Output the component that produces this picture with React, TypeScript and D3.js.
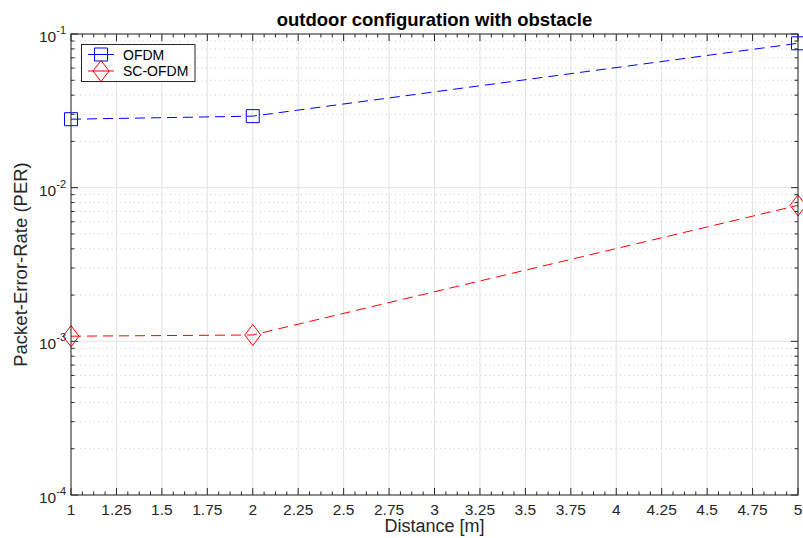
import * as d3 from 'd3';
import React from 'react';

// values
const distances = [1, 2, 5];
const ofdmPer = [0.0279, 0.0292, 0.087];
const scOfdmPer = [0.00108, 0.0011, 0.00767];
const seriesNames = ['OFDM', 'SC-OFDM'];
const xTicks = d3.range(1, 5.0001, 0.25);
const xMinorTicks = d3.range(1, 5.0001, 0.0625);
const yDecades = [1e-4, 1e-3, 1e-2, 1e-1];

const width = 803;
const height = 538;
const marginTop = 34;
const marginRight = 5;
const marginBottom = 43;
const marginLeft = 71;
const font = '"Liberation Sans", Arial, Helvetica, sans-serif';
const axisColor = '#262626';

const App = () => {
  const x = d3.scaleLinear([1, 5], [marginLeft, width - marginRight]);
  const y = d3.scaleLog([1e-4, 1e-1], [height - marginBottom, marginTop]);

  // minor log ticks 2..9 inside each decade
  const yMinor = yDecades.slice(0, -1).flatMap((d) => d3.range(2, 10).map((k) => k * d));

  const line = d3.line<number>((d, i) => x(distances[i]), (d) => y(d));

  const x0 = marginLeft;
  const x1 = width - marginRight;
  const y0 = height - marginBottom;
  const y1 = marginTop;

  const square = (cx: number, cy: number, s = 6.5) =>
    `M${cx - s},${cy - s}H${cx + s}V${cy + s}H${cx - s}Z`;
  const diamond = (cx: number, cy: number, w = 8, h = 10.5) =>
    `M${cx},${cy - h}L${cx + w},${cy}L${cx},${cy + h}L${cx - w},${cy}Z`;

  const series = [
    { name: seriesNames[0], values: ofdmPer, color: '#0000ff', marker: square },
    { name: seriesNames[1], values: scOfdmPer, color: '#ff0000', marker: diamond },
  ];

  return (
    <div style={{ position: 'absolute', left: 0, top: 0 }}>
      <svg width={width} height={height} style={{ display: 'block', fontFamily: font }}>
        <rect width={width} height={height} fill="white" />

        {/* grid */}
        <g>
          {xTicks.map((t) => (
            <line key={'gx' + t} x1={x(t)} x2={x(t)} y1={y0} y2={y1} stroke="#e3e3e3" strokeWidth={1} />
          ))}
          {yMinor.map((t) => (
            <line key={'gm' + t} x1={x0} x2={x1} y1={y(t)} y2={y(t)} stroke="#bdbdbd" strokeWidth={0.8} strokeDasharray="1,3.5" />
          ))}
          {yDecades.map((t) => (
            <line key={'gy' + t} x1={x0} x2={x1} y1={y(t)} y2={y(t)} stroke="#e3e3e3" strokeWidth={1} />
          ))}
        </g>

        {/* ticks */}
        <g stroke={axisColor} strokeWidth={1}>
          {xMinorTicks.map((t) => {
            const major = Math.abs(t * 4 - Math.round(t * 4)) < 1e-9;
            const len = major ? 7 : 3.5;
            return (
              <g key={'tx' + t}>
                <line x1={x(t)} x2={x(t)} y1={y0} y2={y0 - len} />
                <line x1={x(t)} x2={x(t)} y1={y1} y2={y1 + len} />
              </g>
            );
          })}
          {yMinor.map((t) => (
            <g key={'tym' + t}>
              <line x1={x0} x2={x0 + 3.5} y1={y(t)} y2={y(t)} />
              <line x1={x1} x2={x1 - 3.5} y1={y(t)} y2={y(t)} />
            </g>
          ))}
          {yDecades.map((t) => (
            <g key={'ty' + t}>
              <line x1={x0} x2={x0 + 7} y1={y(t)} y2={y(t)} />
              <line x1={x1} x2={x1 - 7} y1={y(t)} y2={y(t)} />
            </g>
          ))}
        </g>

        {/* data */}
        {series.map((s) => (
          <g key={s.name}>
            <path d={line(s.values) ?? ''} fill="none" stroke={s.color} strokeWidth={1} strokeDasharray="10,6" />
            {s.values.map((v, i) => (
              <path key={i} d={s.marker(x(distances[i]), y(v))} fill="none" stroke={s.color} strokeWidth={1} />
            ))}
          </g>
        ))}

        {/* box */}
        <rect x={x0} y={y1} width={x1 - x0} height={y0 - y1} fill="none" stroke={axisColor} strokeWidth={1} />

        {/* tick labels */}
        <g fontSize={15.5} fill={axisColor}>
          {xTicks.map((t) => (
            <text key={'lx' + t} x={x(t)} y={514.5} textAnchor="middle">
              {String(t)}
            </text>
          ))}
          {yDecades.map((t) => (
            <text key={'ly' + t} x={x0 - 5} y={y(t) + 8} textAnchor="end">
              10
              <tspan dy={-8} fontSize={11}>
                {String(Math.round(Math.log10(t)))}
              </tspan>
            </text>
          ))}
        </g>

        {/* labels */}
        <text x={(x0 + x1) / 2} y={26} textAnchor="middle" fontSize={18.5} fontWeight="bold" fill="#000">
          outdoor configuration with obstacle
        </text>
        <text x={(x0 + x1) / 2} y={532} textAnchor="middle" fontSize={18} fill={axisColor}>
          Distance [m]
        </text>
        <text
          transform={`translate(27,${(y0 + y1) / 2}) rotate(-90)`}
          textAnchor="middle"
          fontSize={18.5}
          fill={axisColor}
        >
          Packet-Error-Rate (PER)
        </text>

        {/* legend */}
        <g>
          <rect x={81.5} y={44.5} width={113.5} height={37} fill="white" stroke={axisColor} strokeWidth={1} />
          {series.map((s, i) => {
            const ly = 54.5 + i * 16.5;
            return (
              <g key={'lg' + s.name}>
                <line x1={88} x2={114} y1={ly} y2={ly} stroke={s.color} strokeWidth={1} />
                <path d={s.marker(101, ly)} fill="none" stroke={s.color} strokeWidth={1} />
                <text x={123} y={ly + 5} fontSize={14} fill="#000">
                  {s.name}
                </text>
              </g>
            );
          })}
        </g>
      </svg>
    </div>
  );
};

export default App;
